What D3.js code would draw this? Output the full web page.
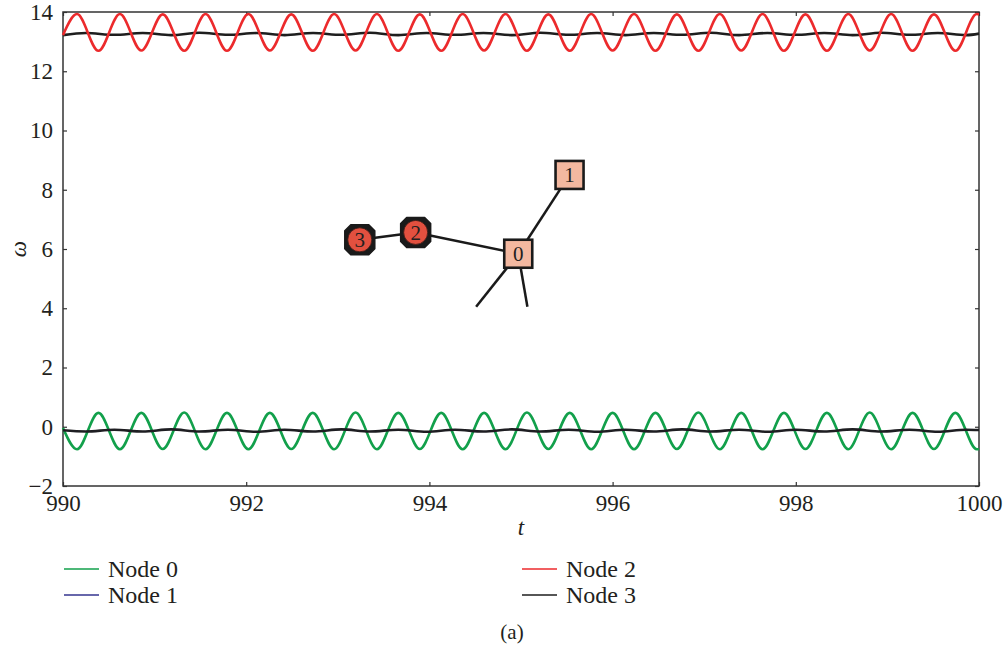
<!DOCTYPE html>
<html>
<head>
<meta charset="utf-8">
<script src="https://cdn.jsdelivr.net/npm/d3@7"></script>
<style>
  body { margin: 0; background: #fff; }
  svg text { font-family: "Liberation Serif", "DejaVu Serif", serif; fill: #231f20; }
</style>
</head>
<body>
<svg id="chart" width="1004" height="648"></svg>
<script>
// swing extrema of nodes 0 and 2
var swingT = [990.000, 990.153, 990.387, 990.621, 990.855, 991.089, 991.323, 991.556, 991.790,
  992.024, 992.258, 992.492, 992.726, 992.960, 993.194, 993.427, 993.661, 993.895, 994.129,
  994.363, 994.597, 994.831, 995.065, 995.298, 995.532, 995.766, 996.000, 996.234, 996.468,
  996.702, 996.936, 997.170, 997.404, 997.637, 997.871, 998.105, 998.339, 998.573, 998.807,
  999.041, 999.275, 999.508, 999.742, 999.976, 1000.000];
var node2Vals = [13.22, 13.93, 12.69, 13.93, 12.70, 13.92, 12.69, 13.93, 12.69,
  13.93, 12.70, 13.92, 12.69, 13.93, 12.70, 13.93, 12.69, 13.92, 12.69,
  13.93, 12.70, 13.93, 12.69, 13.92, 12.69, 13.93, 12.70, 13.93, 12.69,
  13.92, 12.69, 13.93, 12.70, 13.93, 12.69, 13.92, 12.69, 13.93, 12.70,
  13.93, 12.69, 13.92, 12.69, 13.93, 13.92];
var node0Vals = [-0.04, -0.76, 0.47, -0.76, 0.47, -0.75, 0.48, -0.76, 0.47,
  -0.76, 0.47, -0.75, 0.47, -0.76, 0.48, -0.76, 0.47, -0.75, 0.47,
  -0.76, 0.47, -0.76, 0.48, -0.75, 0.47, -0.76, 0.47, -0.76, 0.47,
  -0.75, 0.48, -0.76, 0.47, -0.76, 0.47, -0.75, 0.47, -0.76, 0.48,
  -0.76, 0.47, -0.75, 0.47, -0.76, -0.75];

// slow small wiggle of the two dark lines
var wiggleT = [990.00, 990.25, 990.56, 990.87, 991.18, 991.49, 991.80, 992.11, 992.42, 992.73,
  993.04, 993.35, 993.66, 993.97, 994.28, 994.59, 994.90, 995.21, 995.52, 995.83,
  996.14, 996.45, 996.76, 997.07, 997.38, 997.69, 998.00, 998.31, 998.62, 998.93,
  999.24, 999.55, 999.86, 1000.00];
var node3Vals = [13.22, 13.29, 13.23, 13.29, 13.22, 13.30, 13.23, 13.29, 13.22, 13.29,
  13.23, 13.30, 13.22, 13.29, 13.23, 13.29, 13.22, 13.30, 13.23, 13.29,
  13.22, 13.29, 13.23, 13.30, 13.22, 13.29, 13.23, 13.29, 13.22, 13.30,
  13.23, 13.29, 13.22, 13.27];
var node1Vals = [-0.12, -0.16, -0.10, -0.16, -0.09, -0.16, -0.10, -0.17, -0.10, -0.16,
  -0.09, -0.16, -0.10, -0.17, -0.10, -0.16, -0.09, -0.16, -0.10, -0.17,
  -0.10, -0.16, -0.09, -0.16, -0.10, -0.17, -0.10, -0.16, -0.09, -0.16,
  -0.10, -0.17, -0.10, -0.11];

var xTicks = [990, 992, 994, 996, 998, 1000];
var yTicks = [-2, 0, 2, 4, 6, 8, 10, 12, 14];

// network inset, placed in (t, omega) coordinates
var graphNodes = [
  { id: '0', t: 994.97, w: 5.84, kind: 'square' },
  { id: '1', t: 995.53, w: 8.50, kind: 'square' },
  { id: '2', t: 993.85, w: 6.56, kind: 'gen' },
  { id: '3', t: 993.24, w: 6.31, kind: 'gen' }
];
var stubEnds = [ { t: 994.51, w: 4.05 }, { t: 995.07, w: 4.05 } ];
var graphEdges = [['3', '2'], ['2', '0'], ['0', '1']];

var svg = d3.select('#chart');
var padding = { t: 12, r: 25, b: 162, l: 63 };
var width = +svg.attr('width') - padding.l - padding.r;
var height = +svg.attr('height') - padding.t - padding.b;
var serif = '"Liberation Serif", "DejaVu Serif", serif';

var chartG = svg.append('g')
  .attr('transform', 'translate(' + [padding.l, padding.t] + ')');

var xScale = d3.scaleLinear().domain([990, 1000]).range([0, width]);
var yScale = d3.scaleLinear().domain([-2, 14]).range([height, 0]);

// axes, ticks pointing inwards
function styleAxis(g) {
  g.attr('font-family', serif);
  g.select('.domain').remove();
  g.selectAll('.tick line').attr('stroke', '#333').attr('stroke-width', 1.2);
  g.selectAll('.tick text').style('font-size', '23px');
}
chartG.append('g')
  .call(d3.axisLeft(yScale).tickValues(yTicks).tickSizeInner(-4).tickSizeOuter(0).tickPadding(10))
  .call(styleAxis);
chartG.append('g')
  .attr('transform', 'translate(0,' + height + ')')
  .call(d3.axisBottom(xScale).tickValues(xTicks).tickFormat(d3.format('d'))
    .tickSizeInner(-4).tickSizeOuter(0).tickPadding(9))
  .call(styleAxis);
chartG.append('g')
  .attr('transform', 'translate(' + width + ',0)')
  .call(d3.axisRight(yScale).tickValues(yTicks).tickSizeInner(-4).tickSizeOuter(0).tickFormat(''))
  .call(styleAxis);
chartG.append('g')
  .call(d3.axisTop(xScale).tickValues(xTicks).tickSizeInner(-4).tickSizeOuter(0).tickFormat(''))
  .call(styleAxis);

chartG.append('rect')
  .attr('width', width)
  .attr('height', height)
  .attr('fill', 'none')
  .attr('stroke', '#333')
  .attr('stroke-width', 1.5);

// series
var line = d3.line()
  .x(d => xScale(d[0]))
  .y(d => yScale(d[1]))
  .curve(d3.curveMonotoneX);

function pairs(ts, vs) { return ts.map((t, i) => [t, vs[i]]); }

var series = [
  { name: 'Node 0', pts: pairs(swingT, node0Vals), color: '#12a04b' },
  { name: 'Node 1', pts: pairs(wiggleT, node1Vals), color: '#1e1e22' },
  { name: 'Node 3', pts: pairs(wiggleT, node3Vals), color: '#1e1e1e' },
  { name: 'Node 2', pts: pairs(swingT, node2Vals), color: '#ec2a2c' }
];

chartG.selectAll('.series')
  .data(series)
  .enter()
  .append('path')
  .attr('class', 'series')
  .attr('d', d => line(d.pts))
  .attr('fill', 'none')
  .attr('stroke', d => d.color)
  .attr('stroke-width', 2.6);

// network inset
var byId = {};
graphNodes.forEach(n => byId[n.id] = n);
var netG = chartG.append('g');
var edgeData = graphEdges.map(e => [byId[e[0]], byId[e[1]]])
  .concat(stubEnds.map(s => [byId['0'], s]));
netG.selectAll('.edge')
  .data(edgeData)
  .enter()
  .append('line')
  .attr('class', 'edge')
  .attr('x1', d => xScale(d[0].t))
  .attr('y1', d => yScale(d[0].w))
  .attr('x2', d => xScale(d[1].t))
  .attr('y2', d => yScale(d[1].w))
  .attr('stroke', '#1a1a1a')
  .attr('stroke-width', 2.5);

var nodeG = netG.selectAll('.gnode')
  .data(graphNodes)
  .enter()
  .append('g')
  .attr('class', 'gnode')
  .attr('transform', d => 'translate(' + [xScale(d.t), yScale(d.w)] + ')');

nodeG.filter(d => d.kind === 'square')
  .append('rect')
  .attr('x', -14).attr('y', -14)
  .attr('width', 28).attr('height', 28)
  .attr('fill', '#f3b8a0')
  .attr('stroke', '#1a1a1a')
  .attr('stroke-width', 2.6);

var oct = 'M-9,-15 L9,-15 L15,-9 L15,9 L9,15 L-9,15 L-15,9 L-15,-9 Z';
var genG = nodeG.filter(d => d.kind === 'gen');
genG.append('path')
  .attr('d', oct)
  .attr('fill', '#1a1a1a')
  .attr('stroke', '#1a1a1a')
  .attr('stroke-linejoin', 'round')
  .attr('stroke-width', 1.5);
genG.append('circle')
  .attr('r', 12)
  .attr('fill', '#e2503f')
  .attr('stroke', '#3a1a16')
  .attr('stroke-width', 0.8);

nodeG.append('text')
  .attr('text-anchor', 'middle')
  .attr('dy', '0.35em')
  .style('font-size', '21px')
  .text(d => d.id);

// axis titles
svg.append('text')
  .attr('x', padding.l + width / 2)
  .attr('y', 535)
  .attr('text-anchor', 'middle')
  .style('font-size', '23px')
  .style('font-style', 'italic')
  .text('t');
svg.append('text')
  .attr('transform', 'translate(26,' + (padding.t + height / 2) + ') rotate(-90)')
  .attr('text-anchor', 'middle')
  .style('font-size', '23px')
  .style('font-style', 'italic')
  .text('ω');

// legend
var legendItems = [
  { name: 'Node 0', color: '#12a04b', col: 0, row: 0 },
  { name: 'Node 1', color: '#35348f', col: 0, row: 1 },
  { name: 'Node 2', color: '#ec2a2c', col: 1, row: 0 },
  { name: 'Node 3', color: '#1e1e1e', col: 1, row: 1 }
];
var legendG = svg.append('g').attr('transform', 'translate(64,569)');
var legendRows = legendG.selectAll('.legend_item')
  .data(legendItems)
  .enter()
  .append('g')
  .attr('class', 'legend_item')
  .attr('transform', d => 'translate(' + [d.col * 458, d.row * 26] + ')');
legendRows.append('line')
  .attr('x1', 0).attr('x2', 35)
  .attr('stroke', d => d.color)
  .attr('stroke-width', 1.6);
legendRows.append('text')
  .attr('x', 44)
  .attr('dy', '0.35em')
  .style('font-size', '24px')
  .text(d => d.name);

svg.append('text')
  .attr('x', 512)
  .attr('y', 639)
  .attr('text-anchor', 'middle')
  .style('font-size', '21px')
  .text('(a)');
</script>
</body>
</html>
